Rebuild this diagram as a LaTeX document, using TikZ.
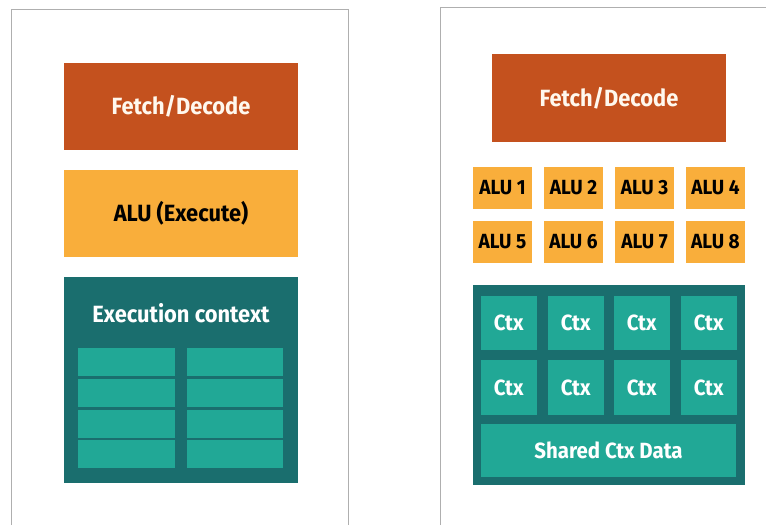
\documentclass[tikz,border=0pt]{standalone}
\usepackage{fontspec}
\setmainfont{Fira Sans}[FakeStretch=0.93]
\definecolor{fetchc}{HTML}{C4511E}
\definecolor{aluc}{HTML}{F9AE3B}
\definecolor{ctxdark}{HTML}{1A6E6E}
\definecolor{ctxlight}{HTML}{21A896}
\definecolor{framec}{HTML}{AFAFAF}
\definecolor{lighttext}{HTML}{FFF8EE}
\tikzset{
  blk/.style={inner sep=0pt, outer sep=0pt, anchor=north west, font=\bfseries},
  bigtext/.style={font=\bfseries\fontsize{23.5}{25}\selectfont},
  fetchbox/.style={blk, fill=fetchc, text=lighttext, bigtext},
  alubox/.style={blk, fill=aluc, text=black, bigtext},
  smallalu/.style={blk, fill=aluc, text=black, font=\bfseries\fontsize{20.5}{22}\selectfont},
  ctxbig/.style={blk, fill=ctxdark},
  ctxcell/.style={blk, fill=ctxlight, text=white, font=\bfseries\fontsize{22}{24}\selectfont},
  panel/.style={draw=framec, line width=1pt},
}
\begin{document}
\begin{tikzpicture}[x=1pt,y=-1pt]
\useasboundingbox (0,0) rectangle (766,525);
% open frames of the two cores
\draw[panel] (11,525) -- (11,9) -- (348,9) -- (348,525);
\draw[panel] (440,525) -- (440,7) -- (766,7);

% ---- single-ALU core ----
\node[fetchbox, minimum width=234pt, minimum height=87pt] (fd1) at (64,63) {Fetch/Decode};
\node[alubox, minimum width=234pt, minimum height=87pt] (alu) at (64,170) {ALU (Execute)};
\node[ctxbig, minimum width=234pt, minimum height=206pt] (ec) at (64,277) {};
\node[text=white, bigtext, inner sep=0pt] (ectitle) at (181,313) {Execution context};
\foreach \r/\y in {1/348,2/379,3/410,4/440}{
  \node[ctxcell, minimum width=97pt, minimum height=27.5pt] (ecl\r) at (78,\y) {};
  \node[ctxcell, minimum width=96pt, minimum height=27.5pt] (ecr\r) at (187,\y) {};
}

% ---- eight-ALU core ----
\node[fetchbox, minimum width=234pt, minimum height=88pt] (fd2) at (492,54) {Fetch/Decode};
\foreach \i/\x in {1/473,2/544,3/615,4/686}{
  \node[smallalu, minimum width=59pt, minimum height=42pt] (alu\i) at (\x,167) {ALU \i};
}
\foreach \i/\x in {5/473,6/544,7/615,8/686}{
  \node[smallalu, minimum width=59pt, minimum height=42pt] (alu\i) at (\x,221) {ALU \i};
}
\node[ctxbig, minimum width=272pt, minimum height=200pt] (ctxarea) at (473,285) {};
\foreach \i/\x in {1/481,2/548,3/614,4/681}{
  \node[ctxcell, minimum width=55.5pt, minimum height=54pt] (ctxa\i) at (\x,296) {Ctx};
  \node[ctxcell, minimum width=55.5pt, minimum height=55pt] (ctxb\i) at (\x,360) {Ctx};
}
\node[ctxcell, minimum width=255pt, minimum height=53pt] (shared) at (481,424) {Shared Ctx Data};
\end{tikzpicture}
\end{document}
